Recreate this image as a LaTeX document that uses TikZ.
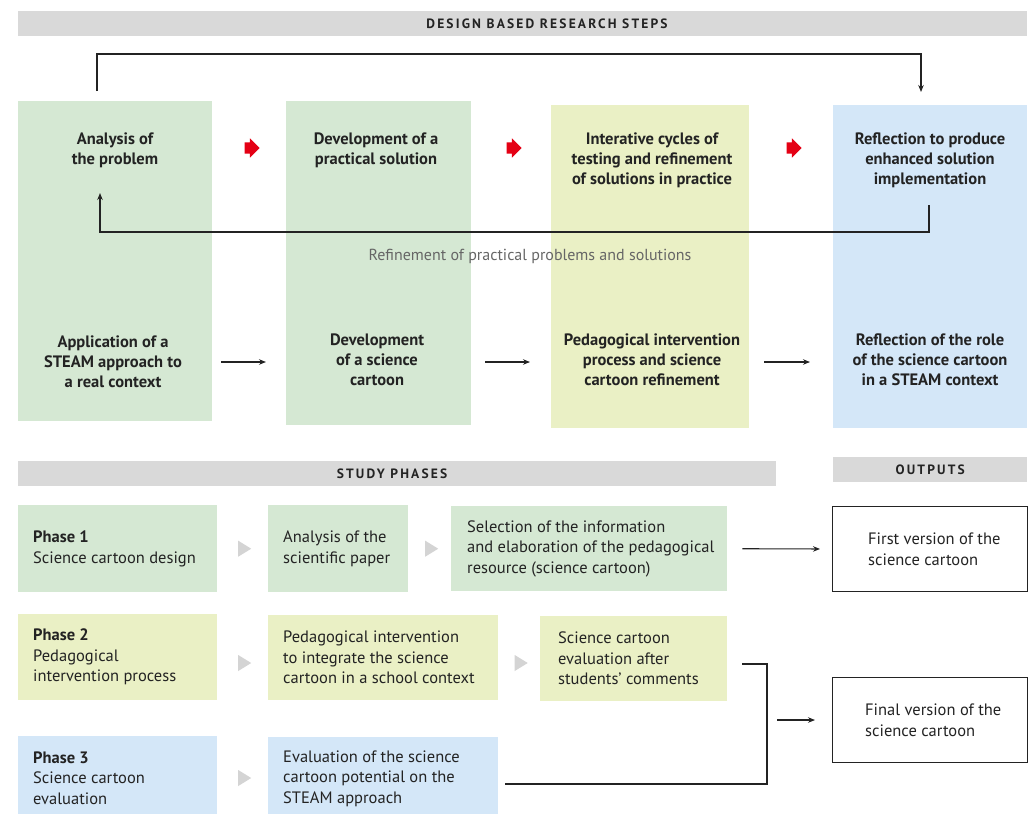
\documentclass[tikz,border=0pt]{standalone}
\usepackage{fontspec}
\setmainfont{PT Sans}
\usetikzlibrary{positioning,arrows.meta,calc,shapes.geometric,shapes.arrows}
\definecolor{grn}{RGB}{213,232,211}
\definecolor{ylw}{RGB}{234,240,197}
\definecolor{blu}{RGB}{212,231,248}
\definecolor{barcol}{RGB}{217,217,217}
\definecolor{redarr}{RGB}{228,0,20}
\definecolor{tricol}{RGB}{212,212,212}
\definecolor{ink}{RGB}{35,35,35}
\tikzset{
  >=Stealth,
  column/.style={rectangle, anchor=north west, inner sep=0pt},
  bar/.style={rectangle, fill=barcol, anchor=north west, inner sep=0pt, minimum height=25pt,
    text=ink, font=\bfseries\fontsize{13.5}{15}\selectfont\addfontfeature{LetterSpace=16}},
  steptext/.style={align=center, text=ink, font=\bfseries\fontsize{16.5}{20}\selectfont},
  pbox/.style={rectangle, anchor=north west, inner sep=0pt},
  outbox/.style={pbox, draw=ink, line width=1pt, fill=white},
  boxtext/.style={anchor=west, inner sep=0pt, align=left, text=ink,
    font=\fontsize{16.5}{20.5}\selectfont},
  redarrow/.style={single arrow, fill=redarr, inner xsep=2pt, inner ysep=5.5pt,
    minimum height=15pt, single arrow head extend=4pt, single arrow tip angle=90},
  tri/.style={isosceles triangle, isosceles triangle stretches, fill=tricol, inner sep=0pt,
    minimum width=16pt, minimum height=13pt},
  flow/.style={draw=ink, line width=1.1pt},
  arr/.style={flow, -{Stealth[length=7pt,width=5.5pt]}},
}
\begin{document}
\begin{tikzpicture}[x=1pt,y=-1pt]
\useasboundingbox (0,0) rectangle (1030,814);

% design based research steps
\node[bar, minimum width=1009pt] (hdr1) at (18,11) {};
\node[bar, fill=none, anchor=center] (hdr1t) at (547,24) {DESIGN BASED RESEARCH STEPS};

\node[column, fill=grn, minimum width=194pt, minimum height=320pt] (col1) at (18,101) {};
\node[column, fill=grn, minimum width=185pt, minimum height=324pt] (col2) at (286,101) {};
\node[column, fill=ylw, minimum width=198pt, minimum height=323pt] (col3) at (551,105) {};
\node[column, fill=blu, minimum width=194pt, minimum height=323pt] (col4) at (833,105) {};

\node[steptext] (t1) at (115,150) {Analysis of\\the problem};
\node[steptext] (t2) at (376,150) {Development of a\\practical solution};
\node[steptext] (t3) at (652,160) {Interative cycles of\\testing and refinement\\of solutions in practice};
\node[steptext] (t4) at (930,160) {Reflection to produce\\enhanced solution\\implementation};

\coordinate (redrow) at (0,148);
\coordinate (m1) at ($(col1.east)!0.5!(col2.west)$);
\coordinate (m2) at ($(col2.east)!0.5!(col3.west)$);
\coordinate (m3) at ($(col3.east)!0.5!(col4.west)$);
\node[redarrow] (ra1) at (m1 |- redrow) {};
\node[redarrow] (ra2) at (m2 |- redrow) {};
\node[redarrow] (ra3) at (m3 |- redrow) {};

% loops over the columns
\draw[arr] ($(col1.north west)+(79,-10)$) |- ($(col4.north west)+(88,-51)$) -- ($(col4.north west)+(88,-13)$);
\draw[arr] ($(col4.north west)+(96,100)$) |- ($(col1.north west)+(82,131)$) -- ($(col1.north west)+(82,92)$);
\node[text=black!60, font=\fontsize{16}{18}\selectfont] (refine) at (530,256) {Refinement of practical problems and solutions};

\node[steptext] (b1) at (113,362) {Application of a\\STEAM approach to\\a real context};
\node[steptext] (b2) at (377,360) {Development\\of a science\\cartoon};
\node[steptext] (b3) at (652,360) {Pedagogical intervention\\process and science\\cartoon refinement};
\node[steptext] (b4) at (930,360) {Reflection of the role\\of the science cartoon\\in a STEAM context};

\draw[arr, shorten <=9pt, shorten >=20pt] (col1.east |- b1.center) -- (col2.west |- b1.center);
\draw[arr, shorten <=14pt, shorten >=21pt] (col2.east |- b1.center) -- (col3.west |- b1.center);
\draw[arr, shorten <=15pt, shorten >=23pt] (col3.east |- b1.center) -- (col4.west |- b1.center);

% study phases and outputs
\node[bar, minimum width=758pt] (hdr2) at (18,461) {};
\node[bar, fill=none, anchor=center] (hdr2t) at (392,474) {STUDY PHASES};
\node[bar, minimum width=194pt] (hdr3) at (833,457) {OUTPUTS};

\node[pbox, fill=grn, minimum width=199pt, minimum height=87pt] (p1) at (18,505) {};
\node[pbox, fill=grn, minimum width=140pt, minimum height=87pt] (p1b) at (268,505) {};
\node[pbox, fill=grn, minimum width=276pt, minimum height=85pt] (p1c) at (451,506) {};
\node[pbox, fill=ylw, minimum width=199pt, minimum height=86pt] (p2) at (18,614) {};
\node[pbox, fill=ylw, minimum width=230pt, minimum height=85pt] (p2b) at (268,615) {};
\node[pbox, fill=ylw, minimum width=187pt, minimum height=85pt] (p2c) at (540,616) {};
\node[pbox, fill=blu, minimum width=199pt, minimum height=78pt] (p3) at (18,736) {};
\node[pbox, fill=blu, minimum width=230pt, minimum height=77pt] (p3b) at (268,737) {};
\node[outbox, minimum width=195pt, minimum height=85pt] (out1) at (832,506) {};
\node[outbox, minimum width=195pt, minimum height=85pt] (out2) at (832,677) {};

\node[boxtext, right=15pt of p1.west] (p1t) {\textbf{Phase 1}\\Science cartoon design};
\node[boxtext, right=15pt of p1b.west] (p1bt) {Analysis of the\\scientific paper};
\node[boxtext, right=16pt of p1c.west] (p1ct) {Selection of the information\\and elaboration of the pedagogical\\resource (science cartoon)};
\node[boxtext, right=15pt of p2.west] (p2t) {\textbf{Phase 2}\\Pedagogical\\intervention process};
\node[boxtext, right=15pt of p2b.west] (p2bt) {Pedagogical intervention\\to integrate the science\\cartoon in a school context};
\node[boxtext, right=18pt of p2c.west] (p2ct) {Science cartoon\\evaluation after\\students' comments};
\node[boxtext, right=15pt of p3.west, yshift=-3pt] (p3t) {\textbf{Phase 3}\\Science cartoon\\evaluation};
\node[boxtext, right=15pt of p3b.west, yshift=-3pt] (p3bt) {Evaluation of the science\\cartoon potential on the\\STEAM approach};
\node[boxtext, right=36pt of out1.west] (o1t) {First version of the\\science cartoon};
\node[boxtext, right=33pt of out2.west] (o2t) {Final version of the\\science cartoon};

\coordinate (row2) at (0,663);
\coordinate (row3) at (0,778);
\coordinate (n1) at ($(p1.east)!0.5!(p1b.west)$);
\coordinate (n2) at ($(p1b.east)!0.5!(p1c.west)$);
\coordinate (n3) at ($(p2.east)!0.5!(p2b.west)$);
\coordinate (n4) at ($(p2b.east)!0.5!(p2c.west)$);
\coordinate (n5) at ($(p3.east)!0.5!(p3b.west)$);
\node[tri] (g1) at (n1) {};
\node[tri] (g2) at (n2) {};
\node[tri] (g3) at (n3 |- row2) {};
\node[tri] (g4) at (n4 |- row2) {};
\node[tri] (g5) at (n5 |- row3) {};

\draw[arr, shorten <=15pt, shorten >=12pt] (p1c.east) -- (out1.west);
\coordinate (merge) at (767,664);
\coordinate (low) at (0,784);
\draw[flow] ([xshift=15pt]p2c.east |- merge) -- (merge) |- ([xshift=7pt]p3b.east |- low);
\draw[arr, shorten <=10pt, shorten >=17pt] (merge |- out2.west) -- (out2.west);
\end{tikzpicture}
\end{document}
